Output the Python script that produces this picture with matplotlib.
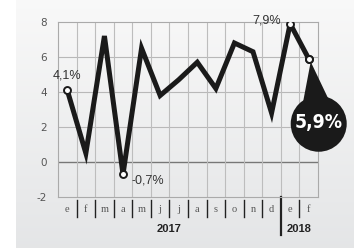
import numpy as np
import matplotlib
matplotlib.use('Agg')
import matplotlib.pyplot as plt
from matplotlib.patches import Circle, Polygon
from matplotlib.lines import Line2D
from matplotlib.transforms import IdentityTransform
from matplotlib import font_manager

months = ['e', 'f', 'm', 'a', 'm', 'j', 'j', 'a', 's', 'o', 'n', 'd', 'e', 'f']
values = [4.1, 0.5, 7.2, -0.7, 6.5, 3.8, 4.7, 5.7, 4.2, 6.8, 6.3, 2.8, 7.9, 5.9]
years = ['2017', '2018']
year_spans = [(0, 12), (12, 14)]
yticks = [-2, 0, 2, 4, 6, 8]
point_labels = {0: '4,1%', 3: '-0,7%', 12: '7,9%'}
label_offsets = {0: (0, 15, 'center'), 3: (8, -6, 'left'), 12: (-9, 3, 'right')}
marked = [0, 3, 12, 13]
highlight_idx = 13
highlight_text = '5,9%'

W, H = 362, 248
fig = plt.figure(figsize=(W / 100, H / 100), dpi=100)
fig.patch.set_facecolor('white')

# background panel with gradient
bg = fig.add_axes([0, 0, 1, 1], zorder=-10)
bg.set_xlim(0, W); bg.set_ylim(H, 0); bg.axis('off')
g = np.linspace(0, 1, 256)[:, None, None]
top = np.array([0.975, 0.975, 0.975]); bot = np.array([0.895, 0.9, 0.905])
img = top + (bot - top) * g
bg.imshow(img, extent=[16, 354, H, 0], aspect='auto', interpolation='bilinear')

ax = fig.add_axes([58 / W, (H - 197) / H, 260 / W, 175 / H])
ax.patch.set_alpha(0)
ax.set_xlim(0, len(months))
ax.set_ylim(-2, 8)

for y in [2, 4, 6]:
    ax.axhline(y, color='#b8b8b8', lw=0.8, zorder=1)
ax.axhline(0, color='#777777', lw=1.0, zorder=1)
for i in range(1, len(months)):
    ax.axvline(i, color='#bdbdbd', lw=0.8, zorder=1)
for s in ax.spines.values():
    s.set_color('#aaaaaa'); s.set_linewidth(0.8)

ax.set_yticks(yticks)
ax.set_yticklabels([str(t) for t in yticks])
ax.tick_params(axis='y', length=0, pad=8, labelsize=7.5, labelcolor='#555555')
ax.set_xticks([])

x = np.arange(len(months)) + 0.5
ax.plot(x, values, color='#1a1a1a', lw=3.6, solid_joinstyle='miter', zorder=5)
for i in marked:
    ax.plot(x[i], values[i], 'o', ms=5, mfc='white', mec='#1a1a1a', mew=1.4, zorder=6)

for i, t in point_labels.items():
    dx, dy, ha = label_offsets[i]
    ax.annotate(t, (x[i], values[i]), xytext=(dx, dy), textcoords='offset pixels',
                ha=ha, va='center', fontsize=9, color='#333333',
                family=['Liberation Sans', 'DejaVu Sans'])

tr = ax.get_xaxis_transform()
for i, m in enumerate(months):
    ax.text(x[i], -13 / 175, m, transform=tr, ha='center', va='center',
            fontsize=7.5, color='#555555', family=['Liberation Serif', 'DejaVu Serif'])
for i in range(1, len(months)):
    if i == 12:
        ax.add_line(Line2D([i, i], [0, -38 / 175], transform=tr, color='#222222', lw=1.6, clip_on=False))
    else:
        ax.add_line(Line2D([i, i], [-3 / 175, -20 / 175], transform=tr, color='#222222', lw=1.0, clip_on=False))
for yl, (a, b) in zip(years, year_spans):
    ax.text((a + b) / 2, -32 / 175, yl, transform=tr, ha='center', va='center',
            fontsize=8, fontweight='bold', color='#222222',
            family=['Liberation Sans', 'DejaVu Sans'])

# pick a condensed bold font if available
cond = None
for f in font_manager.fontManager.ttflist:
    if ('Narrow' in f.name or 'Condensed' in f.name or f.stretch in ('condensed', 'semi-condensed')) \
            and (f.weight in ('bold', 700) or (isinstance(f.weight, int) and f.weight >= 600)):
        cond = f
        break

# callout bubble
px, py = ax.transData.transform((x[highlight_idx], values[highlight_idx]))
cx, cy = px + 10, py - 65
idt = IdentityTransform()
tail = Polygon([(px + 2, py - 3), (px - 6, py - 45), (px + 22, py - 45)], closed=True,
               transform=idt, facecolor='#1a1a1a', edgecolor='none', zorder=3)
fig.add_artist(tail)
circ = Circle((cx, cy), 28, transform=idt, facecolor='#1a1a1a', edgecolor='none', zorder=3)
fig.add_artist(circ)
if cond is not None:
    fp = font_manager.FontProperties(fname=cond.fname, size=18)
    ht = fig.text(cx, cy + 1, highlight_text, transform=idt, ha='center', va='center',
                  color='white', fontproperties=fp, zorder=4)
else:
    ht = fig.text(cx, cy + 1, highlight_text, transform=idt, ha='center', va='center',
                  color='white', fontsize=18, fontweight='bold', family='DejaVu Sans', zorder=4)
r = fig.canvas.get_renderer()
wdt = ht.get_window_extent(r).width
ht.set_fontsize(ht.get_fontsize() * 48.0 / wdt)

ax.plot(x[highlight_idx], values[highlight_idx], 'o', ms=5, mfc='white', mec='#1a1a1a', mew=1.4, zorder=7)

fig.savefig('out.png', dpi=100)
